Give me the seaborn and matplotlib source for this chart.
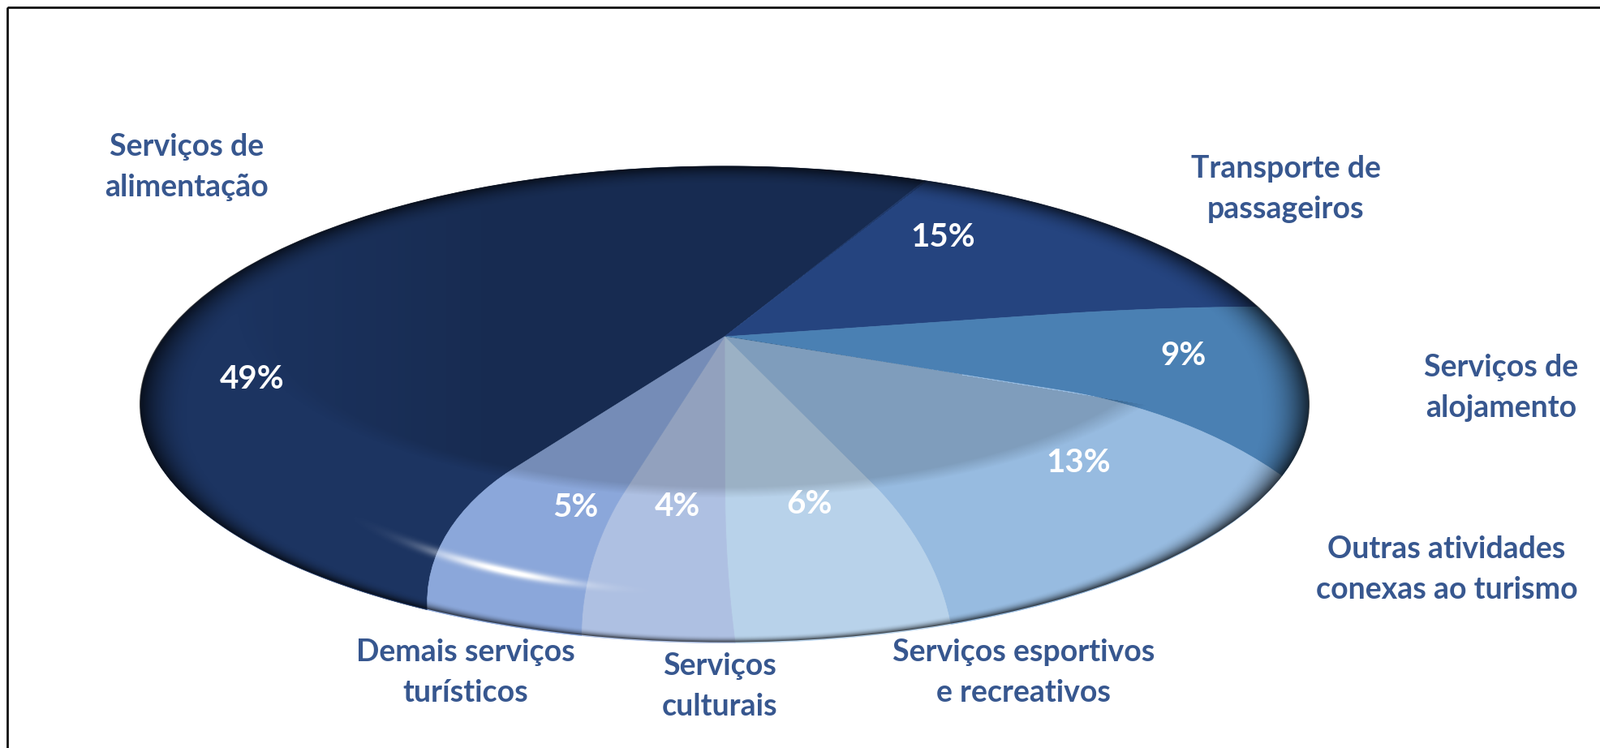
import numpy as np
import seaborn as sns
import matplotlib.pyplot as plt
from matplotlib.patches import Ellipse, Rectangle
from matplotlib.path import Path
from matplotlib.transforms import Affine2D, Transform

sns.set_theme(style="white")
plt.rcParams["font.family"] = ["Lato", "DejaVu Sans"]

values = [49, 15, 9, 13, 6, 4, 5]
names = [
    "Serviços de\nalimentação",
    "Transporte de\npassageiros",
    "Serviços de\nalojamento",
    "Outras atividades\nconexas ao turismo",
    "Serviços esportivos\ne recreativos",
    "Serviços\nculturais",
    "Demais serviços\nturísticos",
]
colors = ["#1c3461", "#25447f", "#4a80b3", "#97bbe0", "#b8d2ea", "#aec0e2", "#8ba7da"]

# pixel layout of the picture
W, H = 1972, 922
APEX = (893, 415)
A_X, A_Y, K = 690, 270, 0.285
RIM = (893, 498, 721, 293.5)
name_xy = [(230, 206), (1585, 233), (1850, 478), (1783, 702), (1262, 829), (887, 846), (574, 829)]
pct_xy = [(311, 467), (1162, 292), (1459, 438), (1329, 570), (997, 621), (835, 624), (709, 625)]


class PieWarp(Transform):
    # tilts the unit pie in perspective, with the glass bend towards the lower rim
    input_dims = output_dims = 2
    is_separable = False

    def transform_non_affine(self, xy):
        xy = np.asarray(xy, float)
        r = np.hypot(xy[:, 0], xy[:, 1])
        t = np.arctan2(xy[:, 1], xy[:, 0])
        u = (t + np.pi / 2 + np.pi) % (2 * np.pi) - np.pi
        bend = np.sign(u) * np.abs(np.sin(1.6 * u)) ** 1.5 * np.radians(12) - np.radians(0.7)
        bend = np.where(np.abs(u) < np.pi / 1.6, bend, 0)
        s = np.clip((r - 0.62) / 0.38, 0, 1)
        t = t - bend * s**1.6
        x, y = r * np.cos(t), r * np.sin(t)
        d = 1 + K * y
        return np.column_stack([APEX[0] + A_X * x / d, APEX[1] - A_Y * y / d])

    def transform_path_non_affine(self, path):
        ring = path.transformed(Affine2D().scale(3000)).to_polygons(closed_only=True)[0] / 3000
        pts = [np.linspace(a, b, 40, endpoint=False) for a, b in zip(ring[:-1], ring[1:])]
        return Path(self.transform_non_affine(np.vstack(pts + [ring[-1:]])))


def glass_overlay():
    cx, cy, rx, ry = RIM
    yy, xx = np.mgrid[0:H, 0:W] + 0.5
    rho = np.hypot((xx - cx) / rx, (yy - cy) / ry)
    img = np.zeros((H, W, 4))

    # darker inner dome, which the 15% and 9% slices do not show, fading out to the left
    dome = np.hypot((xx - 893) / 590, (yy - 377) / 230)
    dark = 0.16 * np.clip((1.03 - dome) / 0.06, 0, 1) * np.clip((xx - 250) / 350, 0, 1)
    ang = np.degrees(np.arctan2(yy - APEX[1], xx - APEX[0]))
    dark = np.where((ang > -37.4) & (ang < 9.2), 0, dark)

    # dark rim, wide at the top and sides, thin at the bottom
    ny = np.clip((yy - cy) / ry / np.maximum(rho, 1e-6), 0, 1)
    width = 0.03 + 0.06 * (1 - ny)
    edge = 0.72 * np.clip((rho - (1 - width)) / width, 0, 1) ** 2.2
    shade = 1 - (1 - dark) * (1 - edge)

    # white streak on the lower left
    streak = np.exp(-(((rho - 0.795) / 0.016) ** 2)) * np.exp(-(((xx - 625) / 85) ** 2))
    streak = np.where(yy > cy, np.clip(streak * 1.1, 0, 1), 0)

    alpha = 1 - (1 - shade) * (1 - streak)
    img[..., :3] = (streak / np.maximum(alpha, 1e-6))[..., None]
    img[..., 3] = alpha
    return img


fig = plt.figure(figsize=(W / 100, H / 100), dpi=100)
ax = fig.add_axes([0, 0, 1, 1])

wedges, _ = ax.pie(values, colors=colors, startangle=238, counterclock=False)
warp = PieWarp()
for w in wedges:
    w.set_edgecolor(w.get_facecolor())
    w.set_linewidth(0.5)
    w.set_transform(warp + ax.transData)

im = ax.imshow(glass_overlay(), extent=(0, W, H, 0), zorder=3, interpolation="nearest")
im.set_clip_path(Ellipse(RIM[:2], RIM[2] * 2, RIM[3] * 2, transform=ax.transData))

ax.set_aspect("auto")
ax.set_xlim(0, W)
ax.set_ylim(H, 0)
ax.axis("off")

ax.add_patch(Rectangle((9, 9), W, H, fill=False, edgecolor="#111111", linewidth=2, zorder=5))

for name, (x, y) in zip(names, name_xy):
    ax.text(x, y, name, color="#37578f", fontsize=27, fontweight="bold", ha="center", va="center",
            linespacing=1.58, zorder=6)
for v, (x, y) in zip(values, pct_xy):
    ax.text(x, y, f"{v}%", color="white", fontsize=29, fontweight="bold", ha="center", va="center", zorder=6)

fig.savefig("out.png", dpi=100)
